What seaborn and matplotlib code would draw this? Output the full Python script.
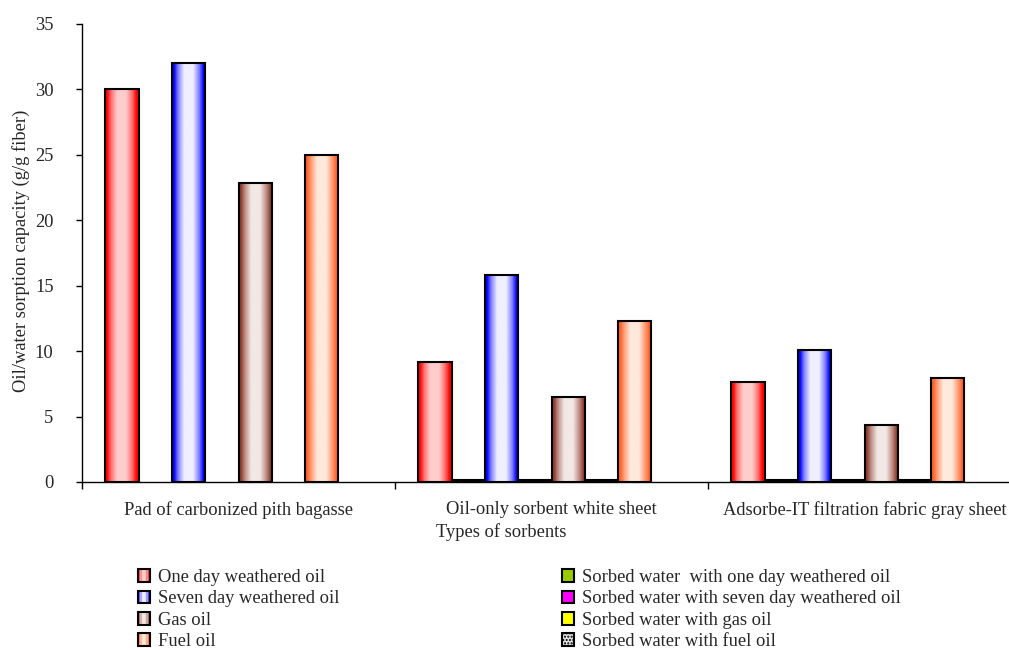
import numpy as np
import pandas as pd
import matplotlib
matplotlib.use("Agg")
import matplotlib.pyplot as plt
import seaborn as sns
from matplotlib.colors import LinearSegmentedColormap
from matplotlib.patches import Rectangle, Patch
from matplotlib.legend_handler import HandlerBase

# ---- data -------------------------------------------------------------
sorbents = ["Pad of carbonized pith bagasse",
            "Oil-only sorbent white sheet",
            "Adsorbe-IT filtration fabric gray sheet"]
one_day_oil = [30.0, 9.2, 7.65]
seven_day_oil = [32.0, 15.8, 10.1]
gas_oil = [22.85, 6.5, 4.35]
fuel_oil = [25.0, 12.3, 7.95]
water_one_day = [0.0, 0.12, 0.12]
water_seven_day = [0.0, 0.12, 0.12]
water_gas = [0.0, 0.12, 0.12]
water_fuel = [0.0, 0.0, 0.0]

oil_labels = ["One day weathered oil", "Seven day weathered oil",
              "Gas oil", "Fuel oil"]
water_labels = ["Sorbed water  with one day weathered oil",
                "Sorbed water with seven day weathered oil",
                "Sorbed water with gas oil",
                "Sorbed water with fuel oil"]

series = {
    oil_labels[0]: one_day_oil, water_labels[0]: water_one_day,
    oil_labels[1]: seven_day_oil, water_labels[1]: water_seven_day,
    oil_labels[2]: gas_oil, water_labels[2]: water_gas,
    oil_labels[3]: fuel_oil, water_labels[3]: water_fuel,
}
hue_order = list(series.keys())
df = pd.DataFrame([(s, name, v) for name, vals in series.items()
                   for s, v in zip(sorbents, vals)],
                  columns=["sorbent", "series", "value"])

# ---- styling ----------------------------------------------------------
sns.set_style("white")
plt.rcParams["font.family"] = ["Liberation Serif", "DejaVu Serif"]
FS = 13.3

# gradient stops (edge, mid, centre) for the oil bars
grad_cols = {
    oil_labels[0]: ("#ff0000", "#ff7070", "#ffcccc"),
    oil_labels[1]: ("#0000ff", "#8080ff", "#efefff"),
    oil_labels[2]: ("#8c3e2c", "#c09088", "#f2e8e5"),
    oil_labels[3]: ("#ff6028", "#ff9c74", "#ffe8dc"),
}
water_cols = {
    water_labels[0]: "#99cc00",
    water_labels[1]: "#ff00ff",
    water_labels[2]: "#ffff00",
    water_labels[3]: "#e0e0e0",
}


def make_cmap(cols):
    d, m, l = cols
    return LinearSegmentedColormap.from_list(
        "g", [(0.0, d), (0.06, d), (0.18, m), (0.36, l), (0.62, l),
              (0.8, m), (0.93, d), (1.0, d)])


cmaps = {k: make_cmap(v) for k, v in grad_cols.items()}
palette = {k: v[1] for k, v in grad_cols.items()}
palette.update(water_cols)

fig = plt.figure(figsize=(10.09, 6.5), dpi=100)
ax = fig.add_axes([82 / 1009, 1 - 482 / 650, 939 / 1009, 458 / 650])

sns.barplot(data=df, x="sorbent", y="value", hue="series",
            hue_order=hue_order, order=sorbents, palette=palette,
            width=0.85, edgecolor="black", linewidth=1.5,
            legend=False, ax=ax, errorbar=None)

# horizontal gradient fill clipped to each oil bar
for name, cont in zip(hue_order, ax.containers):
    for patch in cont.patches:
        h = patch.get_height()
        if h <= 0:
            patch.set_linewidth(0)
            continue
        if name in cmaps:
            x0, w = patch.get_x(), patch.get_width()
            im = ax.imshow(np.linspace(0, 1, 256).reshape(1, -1),
                           cmap=cmaps[name], extent=(x0, x0 + w, 0, h),
                           aspect="auto", zorder=1.9, interpolation="bilinear")
            im.set_clip_path(patch)
            patch.set_facecolor("none")
            patch.set_zorder(2)

ax.set_xlim(-0.5, 2.5)
ax.set_ylim(0, 35)
ax.set_yticks(np.arange(0, 36, 5))
ax.set_yticklabels([str(v) for v in range(0, 36, 5)], fontsize=FS)
ax.set_xticks(range(len(sorbents)))
ax.set_xticklabels(sorbents, fontsize=FS)
ax.set_xticks([-0.5, 0.5, 1.5, 2.5], minor=True)
ax.tick_params(axis="x", which="major", length=0, pad=14)
ax.tick_params(axis="x", which="minor", length=5, width=1, color="black",
               direction="out", bottom=True)
ax.tick_params(axis="y", length=4.5, width=1, color="black", direction="out",
               left=True, pad=16)

for side in ("top", "right"):
    ax.spines[side].set_visible(False)
for side in ("left", "bottom"):
    ax.spines[side].set_color("black")
    ax.spines[side].set_linewidth(1)

ax.set_ylabel("Oil/water sorption capacity (g/g fiber)", fontsize=FS)
ax.yaxis.set_label_coords(-0.055, 0.505)
ax.set_xlabel("Types of sorbents", fontsize=FS)
ax.xaxis.set_label_coords((501 - 82) / 939, -0.090)


# ---- legend -----------------------------------------------------------
class GradientHandler(HandlerBase):
    def __init__(self, cmap):
        super().__init__()
        self.cmap = cmap

    def create_artists(self, legend, orig_handle, xdescent, ydescent,
                       width, height, fontsize, trans):
        n = 10
        arts = []
        for i in range(n):
            c = self.cmap((i + 0.5) / n)
            arts.append(Rectangle((-xdescent + i * width / n, -ydescent),
                                  width / n + 0.3, height, facecolor=c,
                                  edgecolor="none", transform=trans))
        arts.append(Rectangle((-xdescent, -ydescent), width, height,
                              facecolor="none", edgecolor="black",
                              linewidth=1.5, transform=trans))
        return arts


oil_handles = [Patch(label=k) for k in oil_labels]
hmap = {h: GradientHandler(cmaps[k]) for h, k in zip(oil_handles, oil_labels)}
leg_kw = dict(frameon=False, fontsize=FS, handlelength=0.65, handleheight=0.7,
              handletextpad=0.45, labelspacing=0.24, borderpad=0,
              borderaxespad=0, loc="upper left")
fig.legend(handles=oil_handles, labels=oil_labels, handler_map=hmap,
           bbox_to_anchor=(138 / 1009, 1 - 569 / 650), **leg_kw)

water_handles = [Patch(facecolor=water_cols[k], edgecolor="black",
                       linewidth=1.5, hatch="....." if i == 3 else None)
                 for i, k in enumerate(water_labels)]
fig.legend(handles=water_handles, labels=water_labels,
           bbox_to_anchor=(562 / 1009, 1 - 569 / 650), **leg_kw)

fig.savefig("out.png", dpi=100)
